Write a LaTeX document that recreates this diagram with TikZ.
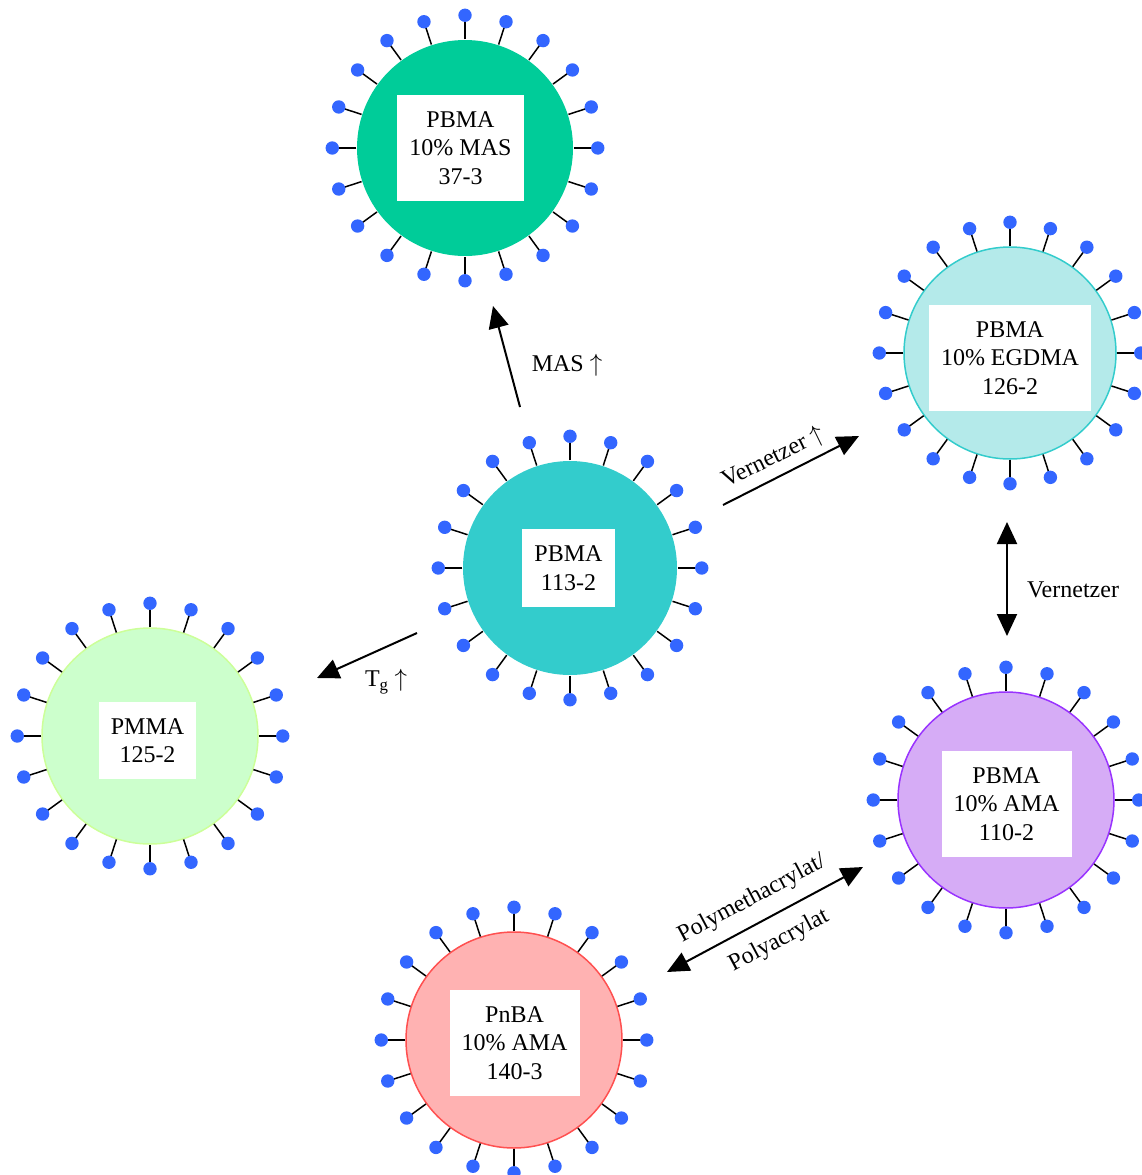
\documentclass[tikz,border=0pt]{standalone}
\usepackage{fontspec}
\setmainfont{Liberation Serif}
\usetikzlibrary{arrows.meta}

\definecolor{dotblue}{RGB}{51,102,255}
\definecolor{masgreen}{RGB}{0,204,153}
\definecolor{pbmacyan}{RGB}{51,204,204}
\definecolor{egdmafill}{RGB}{180,234,234}
\definecolor{amafill}{RGB}{214,172,246}
\definecolor{amaline}{RGB}{153,51,255}
\definecolor{pnbafill}{RGB}{255,178,178}
\definecolor{pnbaline}{RGB}{255,80,80}
\definecolor{pmmafill}{RGB}{204,255,204}
\definecolor{pmmaline}{RGB}{204,255,153}

% 20 chains with a blue end group around a particle
\newcommand{\hairs}[1]{%
  \foreach \a in {0,18,...,342} {
    \draw[line width=1.5pt] (#1.\a) -- ([shift={(\a:24pt)}]#1.\a);
    \fill[dotblue] ([shift={(\a:24pt)}]#1.\a) circle[radius=6.7pt];
  }}

\begin{document}
\begin{tikzpicture}[x=1pt,y=-1pt,
    particle/.style={circle, minimum size=216pt, inner sep=0pt, line width=1.5pt},
    labelbox/.style={fill=white, align=center, inner xsep=12pt, inner ysep=16.5pt,
      font=\fontsize{24}{28.5}\selectfont},
    arrowtext/.style={font=\fontsize{24}{28.5}\selectfont},
    bigarrow/.style={line width=2pt, -{Triangle[length=22pt,width=20pt]}},
    bothways/.style={line width=2pt, {Triangle[length=22pt,width=20pt]}-{Triangle[length=22pt,width=20pt]}}]
    \useasboundingbox (0,0) rectangle (1141,1175);

    % the particles
    \node[particle, fill=masgreen] (mas) at (465,148) {};
    \node[particle, fill=pbmacyan, minimum size=214pt] (pbma) at (570,568) {};
    \node[particle, fill=egdmafill, draw=pbmacyan, minimum size=212pt] (egdma) at (1010,353) {};
    \node[particle, fill=amafill, draw=amaline] (ama) at (1006,800) {};
    \node[particle, fill=pnbafill, draw=pnbaline] (pnba) at (514,1040) {};
    \node[particle, fill=pmmafill, draw=pmmaline] (pmma) at (150,736) {};

    \hairs{mas}
    \hairs{pbma}
    \hairs{egdma}
    \hairs{ama}
    \hairs{pnba}
    \hairs{pmma}

    % the names in the white boxes
    \node[labelbox] (masbox) at (460.5,148) {PBMA\\10\% MAS\\37-3};
    \node[labelbox] (pbmabox) at (568.5,568) {PBMA\\113-2};
    \node[labelbox] (egdmabox) at (1010,358) {PBMA\\10\% EGDMA\\126-2};
    \node[labelbox] (amabox) at (1006.5,804) {PBMA\\10\% AMA\\110-2};
    \node[labelbox] (pnbabox) at (514.5,1043) {PnBA\\10\% AMA\\140-3};
    \node[labelbox] (pmmabox) at (147.5,740.5) {PMMA\\125-2};

    % ends of the arrows
    \coordinate (mas1) at (520,407);
    \coordinate (mas2) at (493,306);
    \coordinate (tg1) at (417,633);
    \coordinate (tg2) at (317,678);
    \coordinate (vn1) at (723,505);
    \coordinate (vn2) at (859,436);
    \coordinate (vv1) at (1007,522);
    \coordinate (vv2) at (1007,636);
    \coordinate (pa1) at (667,972);
    \coordinate (pa2) at (863,867);

    % draw the arrows
    \draw[bigarrow] (mas1) -- (mas2);
    \draw[bigarrow] (tg1) -- (tg2);
    \draw[bigarrow] (vn1) -- (vn2);
    \draw[bothways] (vv1) -- (vv2);
    \draw[bothways] (pa1) -- (pa2);

    % the texts
    \node[arrowtext] (maslabel) at (567,365) {MAS $\uparrow$};
    \node[arrowtext] (tglabel) at (386,682) {T\textsubscript{g} $\uparrow$};
    \node[arrowtext, rotate=26] (vnlabel) at (773,458) {Vernetzer $\uparrow$};
    \node[arrowtext] (vvlabel) at (1073,590) {Vernetzer};
    \node[arrowtext, rotate=28] (palabel1) at (752,899) {Polymethacrylat/};
    \node[arrowtext, rotate=28] (palabel2) at (779,941) {Polyacrylat};

\end{tikzpicture}
\end{document}
